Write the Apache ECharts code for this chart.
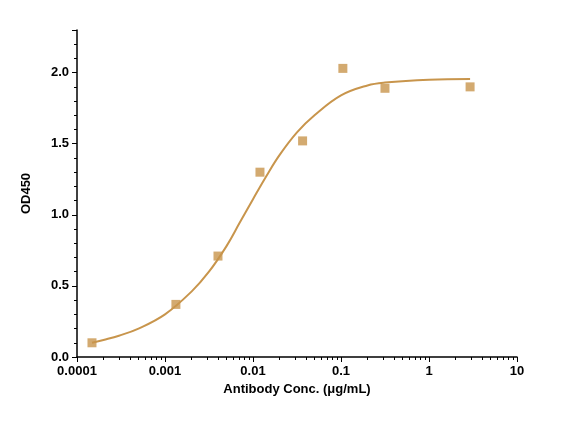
<!DOCTYPE html>
<html>
<head>
<meta charset="utf-8">
<script src="https://cdn.jsdelivr.net/npm/echarts@6/dist/echarts.min.js"></script>
<style>html,body{margin:0;background:#fff}#chart{width:573px;height:429px}</style>
</head>
<body>
<div id="chart"></div>
<script>
// Measured points
var concX = [0.000148, 0.00133, 0.004, 0.012, 0.0366, 0.105, 0.316, 2.93];
var odY = [0.10, 0.37, 0.71, 1.30, 1.52, 2.03, 1.89, 1.90];
// Fitted curve
var curveX = [0.000148, 0.0002, 0.0003, 0.0005, 0.001, 0.002, 0.00316, 0.005, 0.007, 0.01, 0.0141, 0.02, 0.0316, 0.05, 0.1, 0.2, 0.316, 1, 2.93];
var curveY = [0.10, 0.12, 0.15, 0.20, 0.30, 0.46, 0.60, 0.78, 0.94, 1.11, 1.27, 1.42, 1.58, 1.70, 1.84, 1.91, 1.93, 1.95, 1.955];
var xTicks = ['0.0001', '0.001', '0.01', '0.1', '1', '10'];

var color = '#C8954C';
var myChart = echarts.init(document.getElementById('chart'));

function pairs(xs, ys) {
  return xs.map(function(x, i) { return [x, ys[i]]; });
}

myChart.setOption({
  animation: false,
  grid: { left: 77, right: 56, top: 30, bottom: 72 },
  xAxis: {
    type: 'log', min: 0.0001, max: 10, logBase: 10,
    name: 'Antibody Conc. (μg/mL)', nameLocation: 'middle', nameGap: 24,
    nameTextStyle: { fontFamily: 'Arial, Liberation Sans', fontWeight: 'bold', fontSize: 13, color: '#000' },
    axisLine: { lineStyle: { color: '#000', width: 1.5 } },
    axisTick: { lineStyle: { color: '#000' }, length: 5 },
    minorTick: { show: true, splitNumber: 9, length: 3, lineStyle: { color: '#000' } },
    splitLine: { show: false },
    axisLabel: {
      color: '#000', fontWeight: 'bold', fontSize: 13, fontFamily: 'Arial, Liberation Sans',
      formatter: function(v) {
        var i = Math.round(Math.log10(v)) + 4;
        return xTicks[i] || '';
      }
    }
  },
  yAxis: {
    type: 'value', min: 0, max: 2.3, interval: 0.5,
    name: 'OD450', nameLocation: 'middle', nameGap: 44,
    nameTextStyle: { fontFamily: 'Arial, Liberation Sans', fontWeight: 'bold', fontSize: 13, color: '#000' },
    axisLine: { show: true, lineStyle: { color: '#000', width: 1.5 } },
    axisTick: { show: true, lineStyle: { color: '#000' }, length: 5 },
    minorTick: { show: true, splitNumber: 5, length: 3, lineStyle: { color: '#000' } },
    splitLine: { show: false },
    axisLabel: {
      color: '#000', fontWeight: 'bold', fontSize: 13, fontFamily: 'Arial, Liberation Sans',
      formatter: function(v) {
        return Math.abs(v / 0.5 - Math.round(v / 0.5)) < 1e-6 ? v.toFixed(1) : '';
      }
    }
  },
  series: [
    {
      type: 'line', data: pairs(curveX, curveY), smooth: 0.4,
      showSymbol: false, lineStyle: { color: color, width: 2 }, z: 2
    },
    {
      type: 'scatter', data: pairs(concX, odY), symbol: 'rect', symbolSize: 9,
      itemStyle: { color: color }, z: 3
    }
  ]
});
</script>
</body>
</html>
